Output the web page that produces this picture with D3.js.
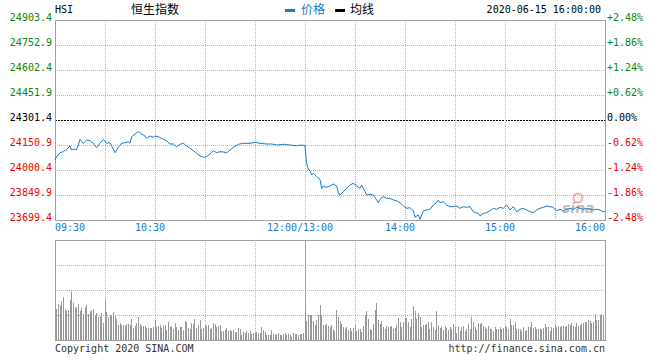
<!DOCTYPE html>
<meta charset="utf-8">
<head>
<script src="https://d3js.org/d3.v7.min.js"></script>
<style>
  body { margin: 0; background: #fff; }
  svg { display: block; }
  .mono { font-family: "DejaVu Sans Mono", "Liberation Mono", monospace; font-size: 10px; }
  .cjk { font-family: "Noto Sans CJK SC", sans-serif; font-size: 12px; }
</style>
</head>
<body>
<svg id="chart" width="660" height="360"></svg>
<script>

// axis tick labels
var priceTicks = [24903.4, 24752.9, 24602.4, 24451.9, 24301.4, 24150.9, 24000.4, 23849.9, 23699.4];
var pctTicks = ["+2.48%", "+1.86%", "+1.24%", "+0.62%", "0.00%", "-0.62%", "-1.24%", "-1.86%", "-2.48%"];
var timeLabels = ["09:30", "10:30", "12:00/13:00", "14:00", "15:00", "16:00"];
var timeLabelAt = ["09:30", "10:30", "12:00", "14:00", "15:00", "16:00"];
var prevClose = 24301.4;

// price line
var priceTimes = ["09:30","09:31","09:33","09:35","09:37","09:39","09:40","09:41","09:43","09:44",
  "09:45","09:47","09:49","09:51","09:53","09:55","09:57","09:59","10:01","10:03",
  "10:04","10:06","10:08","10:10","10:12","10:14","10:15","10:16","10:19","10:20",
  "10:22","10:24","10:25","10:27","10:29","10:30","10:32","10:35","10:37","10:39",
  "10:41","10:43","10:45","10:47","10:49","10:51","10:53","10:55","10:57","10:59",
  "11:01","11:03","11:05","11:07","11:09","11:11","11:13","11:15","11:17","11:20",
  "11:23","11:27","11:30","11:33","11:37","11:40","11:43","11:47","11:51","11:55",
  "11:58","12:00",
  "13:00","13:01","13:02","13:03","13:04","13:05","13:07","13:09","13:10","13:11",
  "13:13","13:15","13:17","13:19","13:20","13:21","13:23","13:25","13:27","13:29",
  "13:31","13:33","13:34","13:35","13:37","13:39","13:41","13:43","13:44","13:45",
  "13:47","13:49","13:51","13:53","13:55","13:57","13:59","14:01","14:03","14:05",
  "14:06","14:08","14:09","14:11","14:13","14:15","14:17","14:19","14:20","14:21",
  "14:23","14:25","14:27","14:29","14:31","14:33","14:35","14:37","14:39","14:41",
  "14:42","14:44","14:45","14:47","14:49","14:51","14:53","14:55","14:57","14:59",
  "15:01","15:03","15:05","15:07","15:09","15:11","15:13","15:15","15:17","15:19",
  "15:21","15:23","15:25","15:27","15:29","15:31","15:33","15:35","15:37","15:39",
  "15:41","15:43","15:45","15:47","15:49","15:51","15:53","15:55","15:57","15:59","16:00"];
var priceValues = [24060.6,24080.5,24104.5,24110.6,24125.0,24144.9,24120.8,24125.0,24125.0,24150.9,
  24185.2,24161.1,24181.0,24176.8,24161.1,24134.6,24161.1,24185.2,24161.1,24164.7,
  24144.9,24104.5,24137.1,24161.1,24164.7,24170.8,24161.1,24200.9,24224.9,24231.0,
  24217.1,24205.1,24191.2,24205.1,24197.3,24205.1,24200.9,24185.2,24176.8,24156.9,
  24156.9,24140.7,24155.1,24161.1,24144.9,24131.0,24116.6,24100.9,24084.7,24076.9,
  24080.5,24096.7,24116.6,24104.5,24110.6,24108.8,24104.5,24120.8,24137.1,24155.1,
  24161.1,24161.1,24167.2,24161.1,24156.9,24156.9,24150.9,24155.1,24150.9,24146.7,
  24150.9,24146.7,
  24139.0,24040.7,24004.6,23996.2,23970.3,23980.5,23960.1,23944.4,23890.2,23904.1,
  23896.3,23904.1,23916.1,23904.1,23863.7,23849.9,23869.8,23890.2,23910.1,23920.3,
  23904.1,23890.2,23910.1,23890.2,23849.9,23854.1,23849.9,23819.8,23803.5,23824.0,
  23839.7,23830.0,23830.0,23819.8,23815.6,23803.5,23783.7,23769.8,23773.8,23753.6,
  23715.7,23729.5,23703.6,23753.6,23759.6,23763.8,23789.7,23803.5,23819.8,23803.5,
  23809.6,23789.7,23779.5,23779.5,23783.7,23769.8,23779.5,23775.9,23779.5,23749.4,
  23743.3,23739.7,23723.5,23739.7,23743.3,23755.4,23769.8,23763.8,23775.9,23769.8,
  23789.7,23759.6,23779.5,23749.4,23763.8,23769.8,23759.6,23749.4,23743.3,23759.6,
  23769.8,23775.9,23783.7,23779.5,23775.9,23755.4,23763.8,23755.4,23763.8,23769.8,
  23763.8,23775.9,23769.8,23763.8,23769.8,23763.8,23759.6,23763.8,23759.6,23749.4,23749.4];

// volume per minute (relative units), morning from 09:31, afternoon from 13:00
var volumeAm = [31,36,34.7,38.3,43,31,29,30,40,48.3,
  37.3,32,33,36,29,32.7,26,32.7,35,26,
  28.7,30,31,25,27,23,24,27,17,40,
  28,23,25,24,28,24.3,21,15,17,15,
  15,14.3,15.7,16,15,21,12,14,17,23,
  16,14,14,14,12,12,12,12,13,20,
  13,14,15,12,15,15,10,18,13,14,
  11,17,13,10,13,13,10,19,18,12,
  11,17,16,21,12,15,20,11,12,16,
  14,15,11,12,17,16,13,14,15,9,
  9,10,12,9,10,9,10,8,8,12,
  11,5,8,7,9,7,9,6,7,8,
  8,7,7,13,10,8,5,5,5,10,
  6,5,6,7,5,5,6,7,5,6,
  5,3,7,6,6,5,6,6,7,10];
var volumePm = [35,19,25,25,25,19,15,20,25,35,
  25,15,15,16,14,13,15,11,9,30,
  23,19,16,13,11,13,10,12,9,12,
  15,9,11,11,8,14,25,29,21,11,
  10,16,30,37,20,16,19,13,11,14,
  13,13,14,11,12,15,22,18,13,18,
  22,22,18,13,21,34,29,21,27,23,
  13,15,15,16,18,11,18,13,10,29,
  15,12,13,10,14,12,10,13,11,16,
  13,7,13,9,13,14,9,11,16,11,
  23,18,13,10,17,16,17,14,13,11,
  14,11,11,9,13,11,11,13,11,12,
  14,13,11,21,15,15,18,11,11,11,
  9,13,9,10,13,13,18,12,13,11,
  11,11,11,12,16,13,13,9,13,12,
  15,13,14,13,14,14,13,14,16,15,
  17,14,13,17,14,15,16,17,18,18,
  20,19,17,18,26,20,20,25,26,25,
  27];

var BLUE = "#1a7acb", GREEN = "#0a860a", RED = "#f00000", FRAME = "#a0a0a0", GRID = "#b4b4b4";

var svg = d3.select("#chart");

// minutes of trading since 09:30, lunch break skipped
function tradeMinute(t) {
  var p = t.split(":"), m = (+p[0]) * 60 + (+p[1]);
  return m <= 720 ? m - 570 : m - 780 + 150;
}

var x = d3.scaleLinear().domain([0, 330]).range([55, 605]);
var y = d3.scaleLinear().domain([priceTicks[priceTicks.length - 1], priceTicks[0]]).range([220, 20]);
var yv = d3.scaleLinear().domain([0, 100]).range([340, 240]);

var gridMinutes = d3.range(30, 330, 30);

// ---- price panel
var main = svg.append("g");

main.selectAll("line.h")
  .data(priceTicks.slice(1, -1))
  .enter().append("line")
  .attr("x1", x(0)).attr("x2", x(330))
  .attr("y1", d => Math.round(y(d)) + 0.5).attr("y2", d => Math.round(y(d)) + 0.5)
  .attr("stroke", d => d === prevClose ? "#000" : GRID)
  .attr("stroke-dasharray", d => d === prevClose ? "2,1" : "1,1");

main.selectAll("line.v")
  .data(gridMinutes)
  .enter().append("line")
  .attr("x1", d => Math.round(x(d)) + 0.5).attr("x2", d => Math.round(x(d)) + 0.5)
  .attr("y1", 20).attr("y2", 220)
  .attr("stroke", GRID)
  .attr("stroke-dasharray", "1,1");

main.append("rect")
  .attr("x", 55.5).attr("y", 20.5).attr("width", 550).attr("height", 200)
  .attr("fill", "none").attr("stroke", FRAME);

// left and right tick labels
function tickColor(i) {
  return priceTicks[i] > prevClose ? GREEN : (priceTicks[i] < prevClose ? RED : "#000");
}
main.selectAll("text.lp")
  .data(priceTicks)
  .enter().append("text")
  .attr("class", "mono")
  .attr("x", 52).attr("y", d => y(d) + 1)
  .attr("text-anchor", "end")
  .attr("fill", (d, i) => tickColor(i))
  .text(d => d.toFixed(1));

main.selectAll("text.rp")
  .data(pctTicks)
  .enter().append("text")
  .attr("class", "mono")
  .attr("x", 607).attr("y", (d, i) => y(priceTicks[i]) + 1)
  .attr("fill", (d, i) => tickColor(i))
  .text(d => d);

// time labels
main.selectAll("text.t")
  .data(timeLabels)
  .enter().append("text")
  .attr("class", "mono")
  .attr("fill", BLUE)
  .attr("x", (d, i) => x(tradeMinute(timeLabelAt[i])) + (i === 0 || i === timeLabels.length - 1 ? 0 : -5))
  .attr("y", 231)
  .attr("text-anchor", (d, i) => i === 0 ? "start" : (i === timeLabels.length - 1 ? "end" : "middle"))
  .text(d => d);

// sina watermark
var wm = main.append("g").attr("opacity", 0.55);
wm.append("circle").attr("cx", 578).attr("cy", 198).attr("r", 4.5)
  .attr("fill", "none").attr("stroke", "#f07070").attr("stroke-width", 2);
wm.append("text").attr("x", 562).attr("y", 213)
  .attr("font-family", "DejaVu Sans").attr("font-style", "italic").attr("font-weight", "bold")
  .attr("font-size", 14).attr("fill", "#888").text("sina");

var line = d3.line()
  .x((d, i) => x(tradeMinute(priceTimes[i])))
  .y(d => y(d));

main.append("path")
  .datum(priceValues)
  .attr("d", line)
  .attr("fill", "none")
  .attr("stroke", BLUE)
  .attr("stroke-width", 1);

// ---- volume panel
var vol = svg.append("g");

vol.selectAll("line.h")
  .data([25, 50, 75])
  .enter().append("line")
  .attr("x1", x(0)).attr("x2", x(330))
  .attr("y1", d => Math.round(yv(d)) + 0.5).attr("y2", d => Math.round(yv(d)) + 0.5)
  .attr("stroke", GRID).attr("stroke-dasharray", "1,1");

vol.selectAll("line.v")
  .data(gridMinutes)
  .enter().append("line")
  .attr("x1", d => Math.round(x(d)) + 0.5).attr("x2", d => Math.round(x(d)) + 0.5)
  .attr("y1", 240).attr("y2", 340)
  .attr("stroke", d => d === 150 ? FRAME : GRID)
  .attr("stroke-dasharray", d => d === 150 ? null : "1,1");

var bars = volumeAm.map((v, i) => ({ m: i + 1, v: v }))
  .concat(volumePm.map((v, i) => ({ m: 150 + i, v: v })));

vol.selectAll("rect.bar")
  .data(bars)
  .enter().append("rect")
  .attr("x", d => Math.floor(x(d.m)))
  .attr("width", 1)
  .attr("y", d => yv(d.v))
  .attr("height", d => yv(0) - yv(d.v))
  .attr("fill", "#999");

vol.append("rect")
  .attr("x", 55.5).attr("y", 240.5).attr("width", 550).attr("height", 100)
  .attr("fill", "none").attr("stroke", FRAME);

// ---- header and footer texts
svg.append("text").attr("class", "mono").attr("x", 55).attr("y", 12.5).attr("fill", "#000").text("HSI");
svg.append("text").attr("class", "cjk").attr("x", 131).attr("y", 14).attr("fill", "#000").text("恒生指数");

svg.append("rect").attr("x", 285).attr("y", 9).attr("width", 10).attr("height", 3).attr("fill", BLUE);
svg.append("text").attr("class", "cjk").attr("x", 301).attr("y", 14).attr("fill", BLUE).text("价格");
svg.append("rect").attr("x", 335).attr("y", 9).attr("width", 10).attr("height", 3).attr("fill", "#000");
svg.append("text").attr("class", "cjk").attr("x", 350).attr("y", 14).attr("fill", "#000").text("均线");

svg.append("text").attr("class", "mono").attr("x", 601).attr("y", 12.5)
  .attr("text-anchor", "end").attr("fill", "#000").text("2020-06-15 16:00:00");

svg.append("text").attr("class", "mono").attr("x", 55).attr("y", 352).attr("fill", "#333")
  .text("Copyright 2020 SINA.COM");
svg.append("text").attr("class", "mono").attr("x", 605).attr("y", 352).attr("text-anchor", "end")
  .attr("fill", "#333").text("http://finance.sina.com.cn");

</script>
</body>
</html>
